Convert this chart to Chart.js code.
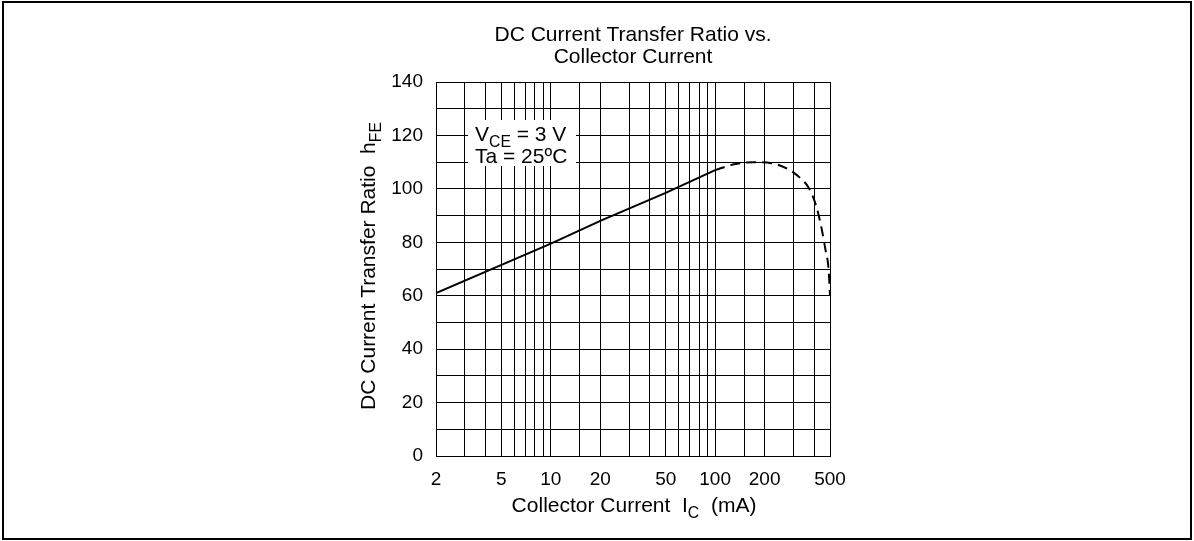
<!DOCTYPE html>
<html>
<head>
<meta charset="utf-8">
<script src="https://cdn.jsdelivr.net/npm/chart.js@4.4.1/dist/chart.umd.min.js"></script>
<style>
  html, body { margin: 0; padding: 0; background: #fff; }
  #wrap { width: 1194px; height: 541px; position: relative; }
</style>
</head>
<body>
<div id="wrap"><canvas id="hfeChart"></canvas></div>
<script>
// (Ic in mA, hFE)
const solidCurrent = [2, 10, 20, 50, 100];
const solidHfe = [61, 79.5, 88, 98.5, 107];
const dashedCurrent = [100, 130, 170, 220, 280, 330, 370, 410, 440, 470, 490, 500];
const dashedHfe = [107, 109.2, 110, 109.6, 107.3, 104, 100.5, 94, 86.5, 77, 70, 60];

// Axis ticks / grid
const xGridValues = [2, 3, 4, 5, 6, 7, 8, 9, 10, 15, 20, 30, 40, 50, 60, 70, 80, 90, 100, 150, 200, 300, 400, 500];
const xTickLabels = [2, 5, 10, 20, 50, 100, 200, 500];
const yTickLabels = [0, 20, 40, 60, 80, 100, 120, 140];

const FONT = '"Liberation Sans", Arial, sans-serif';
const TEXT_SIZE = 21;

function toPoints(xs, ys) {
  return xs.map((x, i) => ({ x: x, y: ys[i] }));
}

// draws text pieces in a row, some as subscripts
function drawRich(ctx, parts, x, y, size) {
  let cx = x;
  parts.forEach(p => {
    const s = p.sub ? size * 0.75 : size;
    ctx.font = s + 'px ' + FONT;
    ctx.fillText(p.t, cx, p.sub ? y + size * 0.27 : y);
    cx += ctx.measureText(p.t).width;
  });
}

function richWidth(ctx, parts, size) {
  let w = 0;
  parts.forEach(p => {
    ctx.font = (p.sub ? size * 0.75 : size) + 'px ' + FONT;
    w += ctx.measureText(p.t).width;
  });
  return w;
}

const decorPlugin = {
  id: 'decor',
  afterDraw(chart) {
    const ctx = chart.ctx;
    ctx.save();
    ctx.fillStyle = '#000';
    ctx.strokeStyle = '#000';
    ctx.textBaseline = 'alphabetic';

    // outer frame
    ctx.lineWidth = 2;
    ctx.strokeRect(3, 2, 1188, 537);

    // title
    ctx.font = TEXT_SIZE + 'px ' + FONT;
    ctx.textAlign = 'center';
    ctx.fillText('DC Current Transfer Ratio vs.', 633, 41);
    ctx.fillText('Collector Current', 633, 63);
    ctx.textAlign = 'left';

    // x axis title
    const xParts = [{ t: 'Collector Current  I' }, { t: 'C', sub: true }, { t: '  (mA)' }];
    const xw = richWidth(ctx, xParts, TEXT_SIZE);
    drawRich(ctx, xParts, 634 - xw / 2, 512, TEXT_SIZE);

    // y axis title (rotated)
    const yParts = [{ t: 'DC Current Transfer Ratio  h' }, { t: 'FE', sub: true }];
    const yw = richWidth(ctx, yParts, TEXT_SIZE);
    ctx.save();
    ctx.translate(375, 266);
    ctx.rotate(-Math.PI / 2);
    drawRich(ctx, yParts, -yw / 2, 0, TEXT_SIZE);
    ctx.restore();

    // conditions box
    ctx.fillStyle = '#fff';
    ctx.fillRect(468, 120, 108, 46);
    ctx.fillStyle = '#000';
    drawRich(ctx, [{ t: 'V' }, { t: 'CE', sub: true }, { t: ' = 3 V' }], 475, 141, TEXT_SIZE);
    ctx.font = TEXT_SIZE + 'px ' + FONT;
    ctx.fillText('Ta = 25ºC', 475, 163);

    ctx.restore();
  }
};

new Chart(document.getElementById('hfeChart'), {
  type: 'line',
  data: {
    datasets: [
      {
        data: toPoints(solidCurrent, solidHfe),
        borderColor: '#000',
        borderWidth: 2,
        pointRadius: 0,
        fill: false
      },
      {
        data: toPoints(dashedCurrent, dashedHfe),
        borderColor: '#000',
        borderWidth: 2,
        borderDash: [10, 6],
        pointRadius: 0,
        fill: false,
        cubicInterpolationMode: 'monotone'
      }
    ]
  },
  options: {
    responsive: true,
    maintainAspectRatio: false,
    animation: false,
    layout: { padding: { left: 0, right: 364, top: 82, bottom: 0 } },
    plugins: {
      legend: { display: false },
      title: { display: false },
      tooltip: { enabled: false }
    },
    scales: {
      x: {
        type: 'logarithmic',
        min: 2,
        max: 500,
        afterBuildTicks: scale => {
          scale.ticks = xGridValues.map(v => ({ value: v }));
        },
        afterFit: scale => { scale.height = 85; },
        grid: { color: '#000', lineWidth: 1, drawTicks: false },
        border: { color: '#000', width: 1 },
        ticks: {
          autoSkip: false,
          maxRotation: 0,
          padding: 12,
          color: '#000',
          font: { family: FONT, size: 19 },
          callback: v => xTickLabels.includes(v) ? String(v) : ''
        }
      },
      y: {
        min: 0,
        max: 140,
        afterFit: scale => { scale.width = 436; },
        grid: { color: '#000', lineWidth: 1, drawTicks: false },
        border: { color: '#000', width: 1 },
        ticks: {
          stepSize: 10,
          padding: 13,
          color: '#000',
          font: { family: FONT, size: 19 },
          callback: v => yTickLabels.includes(v) ? String(v) : ''
        }
      }
    }
  },
  plugins: [decorPlugin]
});
</script>
</body>
</html>
